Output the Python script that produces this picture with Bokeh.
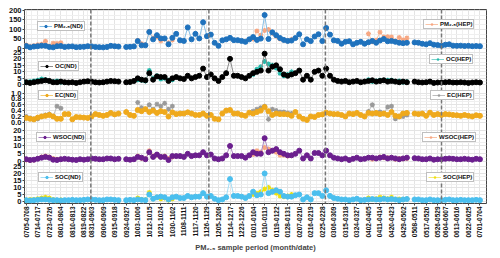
import math
from bokeh.plotting import figure
from bokeh.models import (Range1d, FixedTicker, Span, Label, Legend, LegendItem,
                          ColumnDataSource, CustomJSTickFormatter)
from bokeh.embed import file_html
from bokeh.resources import INLINE

nan = float("nan")
FONT = "Liberation Sans"

# ---------------- data ----------------
x_labels = ["0705-0708", "0714-0717", "0723-0726", "0801-0804", "0810-0813", "0819-0822",
            "0831-0903", "0906-0909", "0915-0918", "0924-0927", "1003-1006", "1012-1015",
            "1021-1024", "1030-1102", "1108-1111", "1117-1120", "1126-1129", "1205-1208",
            "1214-1217", "1223-1226", "0101-0104", "0110-0113", "0119-0122", "0128-0131",
            "0207-0210", "0216-0219", "0225-0228", "0306-0309", "0315-0318", "0324-0327",
            "0402-0405", "0411-0414", "0420-0423", "0429-0502", "0508-0511", "0517-0520",
            "0526-0529", "0604-0607", "0613-0616", "0622-0625", "0701-0704"]
label_idx = [0, 3, 6, 9, 12, 15, 17, 20, 23, 26, 29, 32, 35, 38, 41, 44, 47, 50, 53, 56,
             59, 62, 65, 68, 71, 74, 77, 80, 83, 86, 89, 92, 95, 98, 101, 104, 107, 109,
             112, 115, 118]

seasons = ["Summer", "Autumn", "Winter", "Spring", "Summer"]
season_centers = [9.9, 34.4, 64.5, 92.0, 113.3]
season_bounds = [16.8, 47.5, 77.8, 108.0]

PM_ND = [13, 6, 10, 12, 15, 14, 8, 6, 12, 13, 8, 10, 11, 7, 8, 9, 12,
         11, 8, 7, 6, 8, 14, 12, 10, nan, 8, 9, 11, 39, 17, 17, 87, 48, 70, 53, 53, 22, 56, 77,
         43, 40, 111, 48, 77, 53, 138, 65,
         73, 30, 14, 43, 48, 56, 44, 44, 40, 35, 48, 60, 45, 52, 176, 50, 85, 70, 55, 45,
         40, 42, 55, 75, 22, 48, 39, 63, 75, 39,
         108, 73, 43, 40, 25, 35, 38, 22, 30, 35, 25, 33, 40, 30, 42, 50, 38, 40, 35, 30,
         28, 30, nan, 32, 30, 25, 22, 28, 20, 18,
         15, 20, 22, 15, 14, 15, 13, 14, 12, 13, 12]
OC_ND = [2, 1.5, 2, 2.5, 3, 3.5, 3, 2, 2, 2.5, 2, 1.8, 2, 1.5, 2, 2.5, 2.8,
         2.5, 2, 1.8, 2, 2.5, 3, 2.8, 2.5, nan, 2, 2.2, 3, 5, 4, 3.5, 9, 4, 6.5, 6, 6, 3, 5, 6,
         5, 4.5, 7, 5, 6, 7, 12.5, 6,
         8, 5, 3, 6, 9, 20, 7, 7, 6, 5, 7, 9, 10, 11, 24, 11, 14, 15, 12, 8,
         7, 8, 9, 11, 4, 7, 4, 10, 11, 7,
         12.5, 7, 4, 3, 2.5, 3, 2, 2.5, 3, 2, 2.5, 3, 3.5, 2.5, 3, 3.5, 2.5, 3, 2.5, 2,
         2.5, 2, nan, 2.5, 2, 1.8, 2, 2.5, 1.5, 1.8,
         1.8, 2, 2.2, 1.8, 1.8, 2, 1.8, 1.5, 1.8, 2, 1.8]
EC_ND = [0.15, 0.12, 0.1, 0.16, 0.2, 0.22, 0.25, 0.2, 0.12, 0.12, 0.28, 0.28, 0.1, 0.18, 0.17, 0.16, 0.15,
         0.2, 0.28, 0.25, 0.22, 0.25, 0.32, 0.27, 0.3, nan, 0.35, 0.25, 0.22, 0.42, 0.38, 0.45, 0.35,
         0.4, 0.32, 0.38, 0.35, 0.2, 0.34, 0.28, 0.3, 0.3, 0.34, 0.3, 0.25, 0.25, 0.3, 0.22,
         0.25, 0.12, 0.1, 0.3, 0.4, 0.42, 0.3, 0.3, 0.25, 0.22, 0.33, 0.3, 0.35, 0.4, 0.52, 0.38,
         0.25, 0.3, 0.28, 0.28, 0.27, 0.22, 0.35, 0.2, 0.12, 0.08, 0.2, 0.18, 0.25, 0.27,
         0.33, 0.3, 0.28, 0.28, 0.25, 0.2, 0.3, 0.28, 0.32, 0.25, 0.2, 0.32, 0.3, 0.32, 0.28, 0.3,
         0.25, 0.35, 0.22, 0.2, 0.3, 0.32, nan, 0.3, 0.28, 0.3, 0.22, 0.33, 0.25, 0.28,
         0.25, 0.28, 0.27, 0.25, 0.24, 0.22, 0.25, 0.22, 0.2, 0.24, 0.22]
WSOC_ND = [1.5, 1, 1.2, 1.8, 2.5, 3, 2.5, 1.2, 1, 1.5, 1.8, 1.5, 1.2, 1, 1.5, 1.2, 1.5,
           2, 1.8, 1.5, 1.5, 2, 2, 1.5, 1.8, nan, 1.5, 1.2, 1.5, 3, 2.5, 1.5, 6, 3, 4.5, 3, 3,
           1, 3.5, 3.5, 3.5, 3, 5, 3.5, 4, 4, 6, 4,
           4.5, 2, 1.5, 2, 4, 10, 3.5, 3.5, 3.5, 2.5, 4, 6, 5, 5, 15, 6, 7, 8, 6, 5,
           4, 4, 5, 7, 2, 4, 2, 5.5, 5.5, 4,
           7, 4, 2.5, 2, 1.5, 2, 1, 1.8, 2.5, 1.5, 1.8, 2.5, 2.5, 2, 2.5, 3, 2, 2.5, 2, 1.5,
           2, 2.5, nan, 2.2, 2, 1.5, 1.5, 2, 1.2, 1.5,
           1.5, 1.8, 2, 1.8, 1.5, 1.5, 1.8, 1.5, 1.2, 1.8, 1.5]
SOC_ND = [1, 0.8, 1, 1.2, 1.5, 1.5, 1.2, 1, 1, 0.8, 1, 1, 1.2, 1, 1, 1.2, 1.5,
          1.5, 1.2, 1, 1, 1.5, 1.5, 1.2, 1, nan, 1, 1.2, 1, 1.5, 1.2, 1, 5, 2, 3, 3.5, 3,
          1.5, 3, 3.5, 2.5, 2.5, 4, 3, 3.5, 3.5, 6, 3.5,
          4, 2, 1, 1.5, 3, 16, 4, 4, 3.5, 2.5, 4, 7, 4.5, 5, 20, 6, 7, 8, 7, 4,
          3.5, 3.5, 4.5, 5, 1.5, 3, 1.5, 6, 6, 4,
          8, 4, 2.5, 2, 1.5, 1.5, 1, 1.5, 2, 1, 1.2, 1.5, 1.8, 1.5, 1.5, 2, 1.5, 1.8, 1.5, 1,
          1.5, 1.8, nan, 1.5, 1.5, 1, 1, 1.5, 1, 1,
          1, 1.2, 1.5, 1, 1, 1.2, 1, 1, 1, 1.2, 1]

# HEP campaigns: start sample of each campaign, values per campaign
HEP_STARTS = [0, 29, 59, 89]
PM_HEP = [[18, 10, 15, 20, 22, 38, 12, 28, 27, 30],
          [42, 25, 20, 90, 55, 60, 40, 50, 30, 45],
          [50, 92, 70, 95, 100, 80, 65, 50, 45, 40, 48],
          [78, 36, 43, 86, 60, 62, 60, 40, 58, 45, 55]]
OC_HEP = [[2, 2.5, 3, 3.5, 4.5, 4, 3, 2.5, 3, 2],
          [4, 3.5, 3, 11, 5, 7, 4.5, 5, 3.5, 4],
          [8, 12, 14, 18, 16, 15, 13, 9, 7, 8, 10],
          [4, 2.5, 3, 3.5, 3.5, 3.5, 3.5, 2.5, 3, 2, 2.5]]
EC_HEP = [[0.2, 0.15, 0.1, 0.12, 0.2, 0.25, 0.28, 0.2, 0.55, 0.48],
          [0.68, 0.5, 0.45, 0.6, 0.45, 0.62, 0.55, 0.65, 0.45, 0.55],
          [0.38, 0.45, 0.5, 0.55, 0.1, 0.45, 0.4, 0.35, 0.35, 0.32, 0.3],
          [0.37, 0.6, 0.3, 0.35, 0.3, 0.52, 0.55, 0.12, 0.2, 0.2, 0.25]]
WSOC_HEP = [[1, 0.8, 1, 2, 3, 3.5, 3, 2, 1.5, 1.5],
            [3.5, 2, 1.8, 7, 3.5, 4, 3, 3.5, 2, 3],
            [4.5, 7, 6, 9, 8, 7, 6, 4, 4, 3.5, 4],
            [2.5, 1.5, 2, 3, 2.5, 2.5, 2.5, 1.5, 2, 1.8, 2]]
SOC_HEP = [[1, 1.5, 1.5, 2, 2.5, 3, 2.5, 1.5, 0.5, 1.2],
           [2.5, 1.5, 1.2, 6.5, 2, 3, 2, 2.5, 1, 2],
           [5, 6, 7, 9, 10, 8, 6, 4, 3.5, 4, 5],
           [2.5, 1.5, 2, 3, 2.5, 2, 3, 1.5, 1.8, 1.5, 1.8]]

# ---------------- layout of the stacked panels ----------------
TOTAL = 199.0
PANELS = [
    dict(name="pm", base=159.0, scale=0.195, ticks=[0, 50, 100, 150, 200], minor=25, fmt="{:g}",
         nd=PM_ND, hep=PM_HEP, nd_label="PM\u2082.\u2085(ND)", hep_label="PM\u2082.\u2085(HEP)",
         nd_c="#1f72bd", nd_l="#86bfe6", hep_c="#f7a782", hep_l="#f9c3a6",
         nd_pos=(13, 172), hep_pos=(399, 174)),
    dict(name="oc", base=121.7, scale=1.333, ticks=[0, 5, 10, 15, 20, 25], minor=2.5, fmt="{:g}",
         nd=OC_ND, hep=OC_HEP, nd_label="OC(ND)", hep_label="OC(HEP)",
         nd_c="#000000", nd_l="#8a8a8a", hep_c="#27b9ac", hep_l="#7fd6ce",
         nd_pos=(14, 132), hep_pos=(405, 139)),
    dict(name="ec", base=83.3, scale=30.0, ticks=[0, 0.2, 0.4, 0.6, 0.8, 1.0], minor=0.1, fmt="{:.1f}",
         nd=EC_ND, hep=EC_HEP, nd_label="EC(ND)", hep_label="EC(HEP)",
         nd_c="#efa91c", nd_l="#f5cb72", hep_c="#9a9a9a", hep_l="#bdbdbd",
         nd_pos=(14, 103), hep_pos=(406, 103)),
    dict(name="wsoc", base=43.0, scale=1.6, ticks=[0, 5, 10, 15, 20], minor=2.5, fmt="{:g}",
         nd=WSOC_ND, hep=WSOC_HEP, nd_label="WSOC(ND)", hep_label="WSOC(HEP)",
         nd_c="#6b1f8e", nd_l="#a985c0", hep_c="#f7a782", hep_l="#f9c3a6",
         nd_pos=(12, 61), hep_pos=(398, 61)),
    dict(name="soc", base=2.0, scale=1.44, ticks=[0, 5, 10, 15, 20, 25], minor=2.5, fmt="{:g}",
         nd=SOC_ND, hep=SOC_HEP, nd_label="SOC(ND)", hep_label="SOC(HEP)",
         nd_c="#4bbfee", nd_l="#a5def6", hep_c="#f1e00e", hep_l="#f4ea78",
         nd_pos=(14, 21), hep_pos=(402, 21)),
]

p = figure(frame_width=462, frame_height=194, output_backend="svg", toolbar_location=None,
           x_range=Range1d(-0.45, 119.7), y_range=Range1d(0, TOTAL),
           min_border_left=24, min_border_right=6, min_border_top=9, min_border_bottom=0)
p.background_fill_color = "white"
p.outline_line_color = "#444444"
p.outline_line_width = 1

yt, ylab, yminor = [], [], []
for pn in PANELS:
    p.extra_y_ranges[pn["name"]] = Range1d(-pn["base"] / pn["scale"], (TOTAL - pn["base"]) / pn["scale"])
    for t in pn["ticks"]:
        yt.append(round(pn["base"] + t * pn["scale"], 4))
        ylab.append(pn["fmt"].format(t))
    t = pn["minor"]
    while t < pn["ticks"][-1]:
        yminor.append(round(pn["base"] + t * pn["scale"], 4))
        t += 2 * pn["minor"]

LOOKUP = """
let best = 0, d = 1e9;
for (let i = 0; i < pos.length; i++) { const dd = Math.abs(pos[i] - tick); if (dd < d) { d = dd; best = i; } }
return lab[best];
"""
p.yaxis.ticker = FixedTicker(ticks=yt, minor_ticks=yminor)
p.yaxis.formatter = CustomJSTickFormatter(args=dict(pos=yt, lab=ylab), code=LOOKUP)
xminor = [(label_idx[k] + label_idx[k + 1]) / 2 for k in range(len(label_idx) - 1)]
p.xaxis.ticker = FixedTicker(ticks=label_idx, minor_ticks=xminor)
p.xaxis.formatter = CustomJSTickFormatter(args=dict(pos=label_idx, lab=x_labels), code=LOOKUP)
p.xaxis.major_label_orientation = math.pi / 2
p.xaxis.axis_label = "PM\u2082.\u2085 sample period (month/date)"

for ax in (p.xaxis[0], p.yaxis[0]):
    ax.major_label_text_font = FONT
    ax.major_label_text_font_style = "bold"
    ax.major_label_text_color = "#111111"
    ax.axis_line_color = None
    ax.major_tick_in = 0
    ax.major_tick_out = 2
    ax.minor_tick_in = 0
    ax.minor_tick_out = 0
    ax.major_tick_line_color = "#444444"
    ax.major_label_standoff = 1
p.yaxis.major_label_text_font_size = "7.5px"
p.xaxis.major_label_text_font_size = "6.5px"
p.xaxis.axis_label_text_font = FONT
p.xaxis.axis_label_text_font_size = "7.5px"
p.xaxis.axis_label_text_font_style = "bold"
p.xaxis.axis_label_standoff = 2

p.xgrid.grid_line_color = "#e4e4e4"
p.ygrid.grid_line_color = "#e4e4e4"
p.xgrid.minor_grid_line_color = "#efefef"
p.ygrid.minor_grid_line_color = "#efefef"

for b in season_bounds:
    p.add_layout(Span(location=b, dimension="height", line_color="#777777",
                      line_dash="4 2", line_width=1.5))

for name, c in zip(seasons, season_centers):
    p.add_layout(Label(x=c, y=TOTAL + 1.5, text=name, text_align="center",
                       text_baseline="bottom", text_font=FONT, text_font_size="8px",
                       text_font_style="bold", text_color="#111111"))

p.add_layout(Label(x=-5.3, y=100, text="\u03bcg m\u207b\u00b3", angle=math.pi / 2,
                   text_align="center", text_baseline="middle", text_font=FONT,
                   text_font_size="7px", text_font_style="bold", text_color="#111111"))


def legend(item_label, rends, pos):
    return Legend(items=[LegendItem(label=item_label, renderers=rends)], location=pos,
                  label_text_font=FONT, label_text_font_size="6px", label_text_font_style="bold",
                  label_text_color="#111111", glyph_width=13, glyph_height=6, label_height=6,
                  label_standoff=2, padding=1, spacing=0, margin=0,
                  border_line_color="#808080", border_line_width=1,
                  background_fill_color="white", background_fill_alpha=1)


for pn in PANELS:
    hx, hy = [], []
    for start, seg in zip(HEP_STARTS, pn["hep"]):
        hx += [start + k for k in range(len(seg))] + [nan]
        hy += list(seg) + [nan]
    hsrc = ColumnDataSource(dict(x=hx, y=hy))
    hl = p.line("x", "y", source=hsrc, y_range_name=pn["name"], line_color=pn["hep_l"], line_width=1)
    hs = p.scatter("x", "y", source=hsrc, y_range_name=pn["name"], marker="asterisk", size=5,
                   line_color=pn["hep_c"], line_width=1.3)
    nsrc = ColumnDataSource(dict(x=list(range(len(pn["nd"]))), y=pn["nd"]))
    nl = p.line("x", "y", source=nsrc, y_range_name=pn["name"], line_color=pn["nd_l"], line_width=1)
    ns = p.scatter("x", "y", source=nsrc, y_range_name=pn["name"], marker="circle", size=5,
                   fill_color=pn["nd_c"], line_color=pn["nd_c"])
    p.add_layout(legend(pn["nd_label"], [nl, ns], pn["nd_pos"]))
    p.add_layout(legend(pn["hep_label"], [hl, hs], pn["hep_pos"]))

open("out.html", "w").write(file_html(p, INLINE))
